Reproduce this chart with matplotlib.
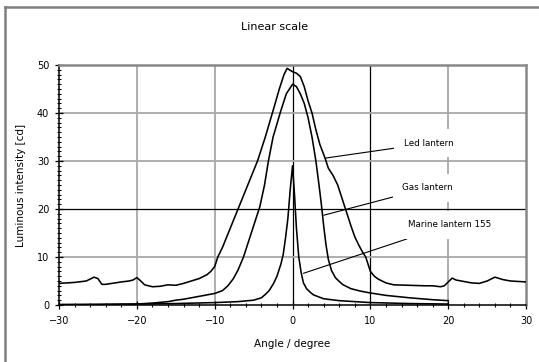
import numpy as np
import matplotlib
matplotlib.use("Agg")
import matplotlib.pyplot as plt
from matplotlib.lines import Line2D
from matplotlib.ticker import MultipleLocator

# Données
led_angle = [-30, -28, -26.5, -25.5, -25, -24.5, -24, -22, -21, -20.5, -20, -19.5, -19, -18,
             -17, -16, -15, -14, -13, -12, -11, -10.5, -10, -9.6, -9, -8, -7, -6, -5, -4.5,
             -3.5, -2.5, -1.7, -1.1, -0.7, 0, 0.5, 1, 1.5, 2, 2.5, 3, 3.5, 4.2, 4.6, 5.2,
             5.8, 6.3, 6.8, 7.5, 8, 8.5, 9, 9.4, 9.7, 10, 10.5, 11, 12, 13, 15, 17, 18, 19,
             19.5, 20, 20.5, 21, 22, 23, 24, 25, 26, 27, 28, 30]
led_val = [4.5, 4.7, 5.0, 5.8, 5.5, 4.3, 4.3, 4.8, 5.0, 5.2, 5.7, 5.0, 4.2, 3.8,
           3.9, 4.2, 4.1, 4.5, 5.0, 5.5, 6.3, 7.0, 8.0, 10, 12, 16, 20, 24, 28, 30,
           35, 40.5, 45, 48, 49.3, 48.6, 48.3, 47.6, 45.5, 42.5, 40, 36.5, 33.5, 30.5, 28.5, 27,
           25, 22.5, 20, 16.5, 14.2, 12.5, 11, 10, 8.5, 7.0, 6.0, 5.4, 4.6, 4.2, 4.1, 4.0, 4.0, 3.8,
           4.0, 4.8, 5.6, 5.2, 4.9, 4.6, 4.5, 5.0, 5.8, 5.3, 5.0, 4.8]

gas_angle = [-30, -25, -22, -20, -18, -16, -15, -14, -12, -11, -10, -9, -8.3, -7.6, -7, -6.3,
             -5.6, -5, -4.2, -3.6, -3.1, -2.5, -1.5, -0.8, 0, 0.5, 1, 1.5, 2, 2.5, 3, 3.4,
             3.7, 4, 4.3, 4.6, 5, 5.5, 6, 6.5, 7.5, 8.7, 10, 12, 15, 18, 20]
gas_val = [0.1, 0.1, 0.15, 0.2, 0.4, 0.7, 1.0, 1.2, 1.8, 2.1, 2.4, 3.0, 4.0, 5.5, 7.3, 10,
           13.5, 16.5, 20.5, 25, 30, 35, 40.5, 44, 46, 45.5, 44, 42, 39, 35, 30, 25,
           21, 16.5, 12.5, 9.5, 7.2, 5.7, 4.9, 4.2, 3.4, 2.9, 2.5, 2.0, 1.5, 1.1, 0.9]

marine_angle = [-30, -20, -15, -10, -7, -5, -4, -3.5, -3, -2.4, -2, -1.5, -1.2, -0.9, -0.6,
                -0.3, 0, 0.25, 0.5, 0.8, 1.1, 1.4, 1.8, 2.3, 2.7, 3.5, 4, 6, 8, 10, 15, 20]
marine_val = [0.05, 0.2, 0.3, 0.5, 0.7, 1.0, 1.5, 2.2, 3.0, 4.6, 6, 8.5, 10.5, 14, 18,
              24, 29, 23, 16, 10, 6.8, 4.6, 3.4, 2.6, 2.1, 1.6, 1.3, 0.9, 0.7, 0.5, 0.3, 0.2]

x_ticks = [-30, -20, -10, 0, 10, 20, 30]
y_ticks = [0, 10, 20, 30, 40, 50]
grid_gris_x = [-20, -10, 20]
grid_noir_x = [0, 10]
grid_gris_y = [10, 30, 40]
grid_noir_y = [20]

# (texte, point sur la courbe, position du texte)
labels = [("Led lantern", (4.2, 30.6), (14.3, 33.7)),
          ("Gas lantern", (4.0, 18.7), (14.1, 24.4)),
          ("Marine lantern 155", (1.4, 6.6), (14.8, 16.7))]

#############################################################
fig = plt.figure(figsize=(5.39, 3.62), dpi=100)
ax = fig.add_axes([0.1095, 0.1575, 0.8665, 0.6629])

# cadre extérieur
fig.add_artist(Line2D([0.0093, 0.0093], [0, 0.9807], color='#808080', lw=1.8,
                      transform=fig.transFigure))
fig.add_artist(Line2D([0.0093, 1.0], [0.9807, 0.9807], color='#808080', lw=1.8,
                      transform=fig.transFigure))

for gx in grid_gris_x:
    ax.axvline(gx, color='#a8a8a8', lw=1.3, zorder=1)
for gx in grid_noir_x:
    ax.axvline(gx, color='black', lw=0.9, zorder=1)
for gy in grid_gris_y:
    ax.axhline(gy, color='#a8a8a8', lw=1.3, zorder=1)
for gy in grid_noir_y:
    ax.axhline(gy, color='black', lw=0.9, zorder=1)

ax.plot(led_angle, led_val, color='black', lw=1.15, zorder=3)
ax.plot(gas_angle, gas_val, color='black', lw=1.15, zorder=3)
ax.plot(marine_angle, marine_val, color='black', lw=1.15, zorder=3)

for txt, xy, xyt in labels:
    ax.annotate(txt, xy=xy, xytext=xyt, fontsize=6.3, ha='left', va='center',
                bbox=dict(boxstyle='square,pad=1.1', fc='white', ec='none'),
                arrowprops=dict(arrowstyle='-', color='black', lw=0.8,
                                shrinkA=0, shrinkB=0),
                zorder=4)

ax.set_xlim(-30, 30)
ax.set_ylim(0, 50)
ax.set_xticks(x_ticks)
ax.set_yticks(y_ticks)
ax.xaxis.set_minor_locator(MultipleLocator(2))
ax.yaxis.set_minor_locator(MultipleLocator(1))
ax.tick_params(which='major', direction='inout', length=6, width=0.9, labelsize=7, pad=4)
ax.tick_params(axis='x', which='major', pad=5)
ax.tick_params(which='minor', direction='inout', length=3.5, width=0.8)
ax.tick_params(top=False, right=False, which='both')

ax.spines['left'].set_linewidth(1.1)
ax.spines['bottom'].set_linewidth(1.1)
ax.spines['top'].set_color('#888888')
ax.spines['right'].set_color('#888888')
ax.spines['top'].set_linewidth(1.8)
ax.spines['right'].set_linewidth(1.8)

ax.set_xlabel('Angle / degree', fontsize=7.5, labelpad=9)
ax.set_ylabel('Luminous intensity [cd]', fontsize=7.5, labelpad=8)
fig.text(0.51, 0.925, 'Linear scale', fontsize=8, ha='center', va='center')

plt.savefig('out.png', dpi=100)
plt.close()
